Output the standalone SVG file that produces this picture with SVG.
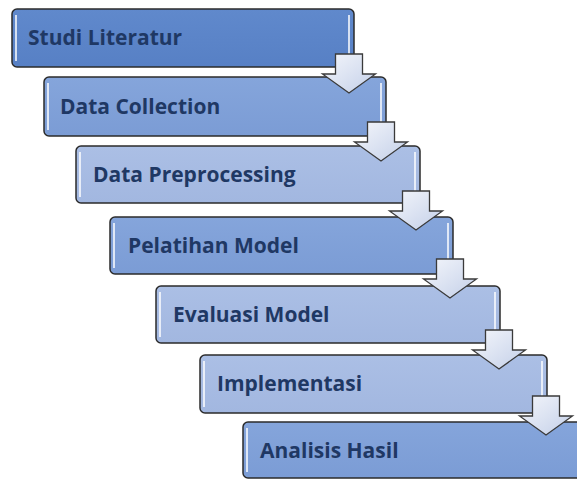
<svg xmlns="http://www.w3.org/2000/svg" width="577" height="479" viewBox="0 0 577 479">
<defs>
<linearGradient id="gDark" x1="0" y1="0" x2="0" y2="1">
<stop offset="0" stop-color="#6089CC"/><stop offset="1" stop-color="#5780C5"/>
</linearGradient>
<linearGradient id="gMid" x1="0" y1="0" x2="0" y2="1">
<stop offset="0" stop-color="#85A5DB"/><stop offset="1" stop-color="#7B9CD5"/>
</linearGradient>
<linearGradient id="gLight" x1="0" y1="0" x2="0" y2="1">
<stop offset="0" stop-color="#ABBFE5"/><stop offset="1" stop-color="#A2B7E0"/>
</linearGradient>
<linearGradient id="gArrow" x1="0" y1="0" x2="1" y2="1">
<stop offset="0" stop-color="#F4F6FB"/><stop offset="0.5" stop-color="#DCE3F2"/><stop offset="1" stop-color="#C3CFE8"/>
</linearGradient>
<path id="arr" d="M-13.5,0 H13.5 V20 H26.5 L0,39 L-26.5,20 H-13.5 Z"/>
</defs>
<style>
.box{stroke:#2B2B2B;stroke-width:1.5}
.hl{stroke:#FFFFFF;stroke-opacity:0.75;stroke-width:2;fill:none}
.lbl{font-family:"Open Sans","Liberation Sans",sans-serif;font-weight:700;font-size:21px;fill:#1F3864}
.arrow{fill:url(#gArrow);stroke:#3A3A3A;stroke-width:1.3;stroke-linejoin:miter}
</style>
<rect width="577" height="479" fill="#FFFFFF"/>
<g id="n1">
<rect class="box" x="12" y="9" width="342" height="58" rx="5" fill="url(#gDark)"/>
<line class="hl" x1="16" y1="15" x2="16" y2="61"/><line class="hl" x1="349" y1="15" x2="349" y2="61"/>
<text class="lbl" x="28" y="45">Studi Literatur</text>
</g>
<g id="n2">
<rect class="box" x="44" y="77" width="342" height="59" rx="5" fill="url(#gMid)"/>
<line class="hl" x1="48" y1="83" x2="48" y2="130"/><line class="hl" x1="381" y1="83" x2="381" y2="130"/>
<text class="lbl" x="60" y="114">Data Collection</text>
</g>
<g id="n3">
<rect class="box" x="76" y="146" width="344" height="57" rx="5" fill="url(#gLight)"/>
<line class="hl" x1="80" y1="152" x2="80" y2="197"/><line class="hl" x1="415" y1="152" x2="415" y2="197"/>
<text class="lbl" x="93" y="182">Data Preprocessing</text>
</g>
<g id="n4">
<rect class="box" x="110" y="217" width="343" height="57" rx="5" fill="url(#gMid)"/>
<line class="hl" x1="114" y1="223" x2="114" y2="268"/><line class="hl" x1="448" y1="223" x2="448" y2="268"/>
<text class="lbl" x="128" y="253">Pelatihan Model</text>
</g>
<g id="n5">
<rect class="box" x="156" y="286" width="344" height="57" rx="5" fill="url(#gLight)"/>
<line class="hl" x1="160" y1="292" x2="160" y2="337"/><line class="hl" x1="495" y1="292" x2="495" y2="337"/>
<text class="lbl" x="173" y="322">Evaluasi Model</text>
</g>
<g id="n6">
<rect class="box" x="200" y="355" width="347" height="58" rx="5" fill="url(#gLight)"/>
<line class="hl" x1="204" y1="361" x2="204" y2="407"/><line class="hl" x1="542" y1="361" x2="542" y2="407"/>
<text class="lbl" x="217" y="391">Implementasi</text>
</g>
<g id="n7">
<rect class="box" x="243" y="422" width="346" height="56" rx="5" fill="url(#gMid)"/>
<line class="hl" x1="247" y1="428" x2="247" y2="472"/>
<text class="lbl" x="260" y="458">Analisis Hasil</text>
</g>
<g id="connectors">
<use href="#arr" class="arrow" transform="translate(349,54)"/>
<use href="#arr" class="arrow" transform="translate(381,122)"/>
<use href="#arr" class="arrow" transform="translate(416,191)"/>
<use href="#arr" class="arrow" transform="translate(450,259)"/>
<use href="#arr" class="arrow" transform="translate(499,330)"/>
<use href="#arr" class="arrow" transform="translate(546,396)"/>
</g>
</svg>
